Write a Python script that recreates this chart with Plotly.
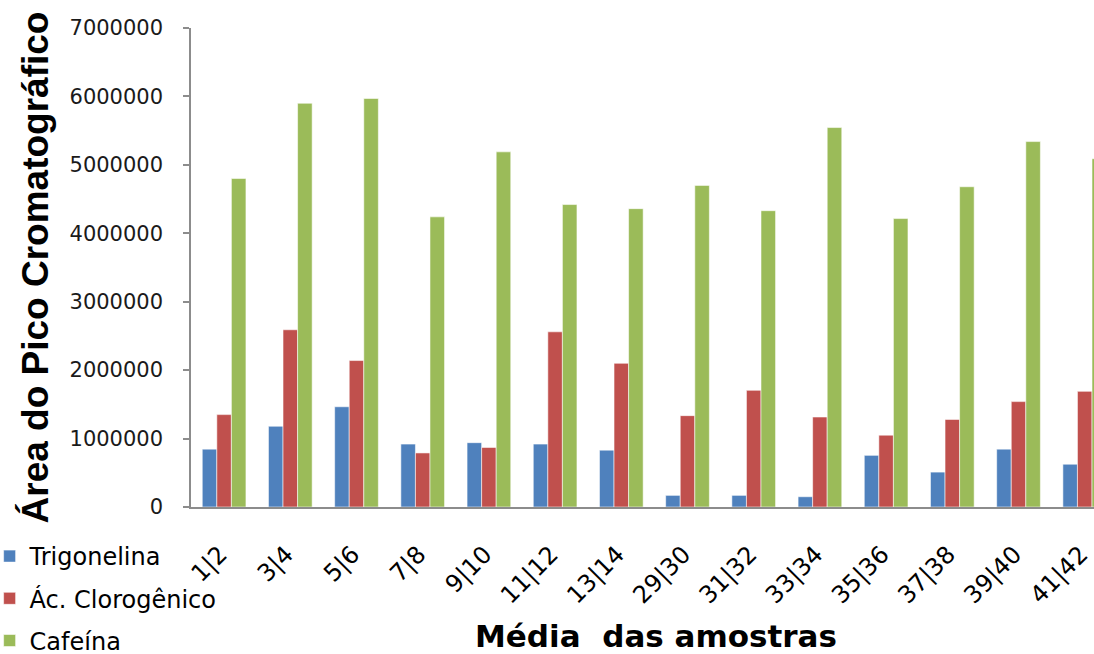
import plotly.graph_objects as go

# Sample pairs (averaged) on the x axis
amostras = ["1|2", "3|4", "5|6", "7|8", "9|10", "11|12", "13|14",
            "29|30", "31|32", "33|34", "35|36", "37|38", "39|40", "41|42"]

# Chromatographic peak areas per compound
trigonelina = [845000, 1180000, 1465000, 920000, 940000, 920000, 830000,
               170000, 170000, 150000, 755000, 510000, 845000, 625000]
ac_clorogenico = [1350000, 2590000, 2140000, 790000, 870000, 2560000, 2100000,
                  1335000, 1705000, 1315000, 1050000, 1280000, 1540000, 1690000]
cafeina = [4800000, 5900000, 5970000, 4240000, 5190000, 4420000, 4360000,
           4700000, 4330000, 5545000, 4215000, 4680000, 5340000, 5090000]

y_ticks = [0, 1000000, 2000000, 3000000, 4000000, 5000000, 6000000, 7000000]

series = [
    ("Trigonelina", trigonelina, "#4F81BD"),
    ("Ác. Clorogênico", ac_clorogenico, "#C0504D"),
    ("Cafeína", cafeina, "#9BBB59"),
]

fig = go.Figure()
for name, vals, color in series:
    fig.add_trace(go.Bar(
        x=amostras, y=vals, name=name, legendgroup=name,
        marker=dict(color=color, line=dict(color="rgba(255,255,255,0.55)", width=1)),
    ))

W, H = 1094, 654
left, top, bottom = 190.5, 28.3, 147
plot_w = W - left
plot_h = H - top - bottom

fig.update_layout(
    width=W, height=H,
    margin=dict(l=left, r=0, t=top, b=bottom, pad=0, autoexpand=False),
    paper_bgcolor="white", plot_bgcolor="white",
    barmode="group", bargap=0.34, bargroupgap=0,
    font=dict(family="DejaVu Sans", color="black"),
    showlegend=True,
    legend=dict(
        orientation="v", traceorder="grouped", tracegroupgap=8,
        x=-(left + 11) / plot_w, xanchor="left",
        y=-(534 - 507) / plot_h, yanchor="top",
        font=dict(family="DejaVu Sans", size=24, color="black"),
        bgcolor="rgba(0,0,0,0)", borderwidth=0,
    ),
    xaxis=dict(
        type="category", range=[-0.5, 13.14], automargin=False,
        showline=True, linecolor="#8c8c8c", linewidth=1.5,
        ticks="", tickangle=-45, ticklabelstandoff=22, ticklabelshift=-4,
        tickfont=dict(family="DejaVu Sans", size=24, color="black"),
        showgrid=False, zeroline=False,
    ),
    yaxis=dict(
        range=[0, 7000000], tickvals=y_ticks, automargin=False,
        ticktext=[str(v) for v in y_ticks],
        showline=True, linecolor="#8c8c8c", linewidth=1.5,
        ticks="outside", ticklen=6, tickcolor="#8c8c8c", tickwidth=1.5,
        ticklabelstandoff=16,
        tickfont=dict(family="DejaVu Sans", size=21, color="#1a1a1a"),
        showgrid=False, zeroline=False,
        title=dict(text="Área do Pico Cromatográfico", standoff=10,
                   font=dict(family="Liberation Sans, Arial", size=37, color="black",
                             weight="bold")),
    ),
    annotations=[dict(
        text="Média\u00a0 das amostras", showarrow=False,
        xref="paper", yref="paper",
        x=(655.5 - left) / plot_w, xanchor="center",
        y=-(636 - 507) / plot_h, yanchor="middle",
        font=dict(family="DejaVu Sans", size=31, color="black", weight="bold"),
    )],
)

fig.write_html("out.html")
